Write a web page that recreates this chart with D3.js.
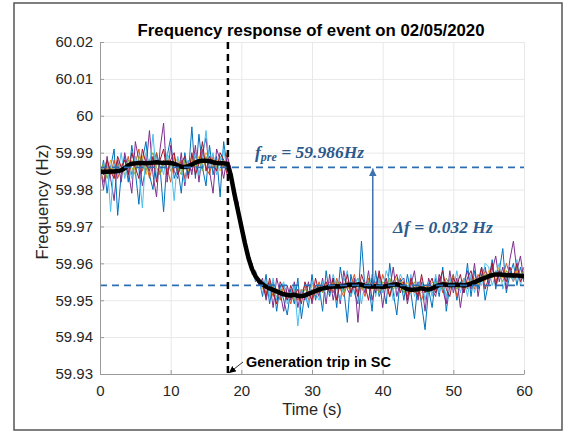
<!DOCTYPE html>
<html><head><meta charset="utf-8">
<script src="https://cdn.jsdelivr.net/npm/d3@7"></script>
<style>body{margin:0;background:#fff}svg{display:block}</style>
</head><body>
<svg id="chart" width="567" height="431"></svg>
<script>
// ---- data ----
const sampleStep = 0.5; // seconds between samples
const meanTrace = [59.9848,59.9848,59.9848,59.9849,59.9849,59.9850,59.9852,59.9858,59.9866,59.9870,
59.9871,59.9872,59.9872,59.9871,59.9872,59.9873,59.9874,59.9873,59.9872,59.9873,
59.9872,59.9870,59.9866,59.9862,59.9861,59.9863,59.9868,59.9873,59.9877,59.9878,
59.9878,59.9877,59.9874,59.9872,59.9871,59.9871,59.9870,59.9840,59.9790,59.9745,
59.9700,59.9655,59.9615,59.9585,59.9565,59.9552,59.9543,59.9537,59.9532,59.9528,
59.9524,59.9520,59.9516,59.9514,59.9513,59.9515,59.9512,59.9511,59.9513,59.9517,
59.9521,59.9525,59.9529,59.9532,59.9534,59.9536,59.9537,59.9538,59.9537,59.9539,
59.9541,59.9542,59.9540,59.9543,59.9542,59.9539,59.9537,59.9537,59.9538,59.9537,
59.9536,59.9538,59.9540,59.9542,59.9543,59.9540,59.9535,59.9530,59.9528,59.9529,
59.9530,59.9532,59.9530,59.9529,59.9532,59.9537,59.9541,59.9543,59.9542,59.9541,
59.9541,59.9542,59.9541,59.9540,59.9542,59.9545,59.9549,59.9553,59.9557,59.9561,
59.9565,59.9568,59.9570,59.9570,59.9569,59.9568,59.9568,59.9567,59.9567,59.9566,59.9566];

const pmu1 = [59.983,59.988,59.979,59.986,59.991,59.973,59.984,59.989,
59.982,59.992,59.985,59.976,59.988,59.993,59.984,59.980,59.990,59.986,59.974,59.989,59.994,59.983,
59.986,59.979,59.990,59.984,
59.997,59.983,59.995,59.986,59.981,59.992,59.984,59.989,59.978,59.993,59.986,
59.985,59.978,59.976,59.969,59.967,59.961,59.960,59.955,59.956,
59.951,59.957,59.949,59.955,59.947,59.954,59.950,59.946,59.953,59.949,59.956,59.945,59.952,59.948,59.957,59.950,59.954,59.947,59.958,
59.951,59.956,59.948,59.959,59.953,59.944,59.957,59.952,59.949,59.966,59.953,59.955,59.947,59.958,59.951,59.954,59.949,59.960,59.952,59.946,59.956,
59.950,59.957,59.952,59.945,59.955,59.949,59.942,59.953,59.948,
59.956,59.951,59.959,59.947,59.954,59.957,59.950,59.955,59.952,59.960,
59.951,59.958,59.953,59.959,59.950,
59.955,59.961,59.953,59.958,59.964,59.952,59.957,59.960,59.954,59.959,59.955];
const pmu2 = [59.986,59.982,59.987,59.984,59.988,59.983,59.986,59.985,
59.989,59.984,59.987,59.991,59.985,59.988,59.983,59.987,59.990,59.984,59.988,59.986,59.982,59.989,
59.985,59.988,59.983,59.987,
59.985,59.989,59.987,59.991,59.986,59.984,59.989,59.985,59.988,59.986,59.990,
59.983,59.980,59.974,59.971,59.965,59.963,59.958,59.958,59.954,
59.955,59.952,59.954,59.951,59.953,59.950,59.954,59.952,59.949,59.953,59.950,59.952,59.954,59.950,59.953,59.951,59.955,59.952,59.954,
59.955,59.952,59.956,59.953,59.951,59.955,59.954,59.957,59.952,59.954,59.951,59.956,59.953,59.955,59.952,59.957,59.954,59.951,59.955,59.953,59.956,
59.954,59.951,59.955,59.952,59.954,59.950,59.953,59.955,59.952,
59.953,59.956,59.952,59.955,59.953,59.957,59.951,59.954,59.956,59.953,
59.956,59.953,59.957,59.955,59.958,
59.956,59.959,59.955,59.958,59.956,59.960,59.957,59.955,59.958,59.956,59.959];
const pmu3 = [59.984,59.987,59.985,59.988,59.983,59.986,59.987,59.984,
59.986,59.988,59.985,59.987,59.989,59.984,59.987,59.986,59.988,59.985,59.987,59.989,59.986,59.988,
59.988,59.985,59.987,59.985,
59.988,59.986,59.989,59.987,59.990,59.988,59.986,59.988,59.985,59.987,59.988,
59.984,59.980,59.975,59.971,59.966,59.961,59.959,59.956,59.955,
59.953,59.955,59.952,59.954,59.953,59.951,59.953,59.952,59.950,59.952,59.951,59.953,59.951,59.952,59.954,59.953,59.952,59.954,59.953,
59.953,59.955,59.954,59.953,59.956,59.954,59.952,59.955,59.954,59.953,59.955,59.954,59.956,59.953,59.955,59.954,59.953,59.955,59.954,59.956,59.953,
59.953,59.955,59.952,59.954,59.953,59.952,59.954,59.953,59.955,
59.954,59.953,59.955,59.954,59.956,59.953,59.955,59.954,59.953,59.955,
59.955,59.956,59.954,59.957,59.955,
59.958,59.956,59.957,59.959,59.956,59.958,59.957,59.956,59.958,59.957,59.956];
const pmu4 = [59.987,59.980,59.989,59.983,59.977,59.988,59.982,59.990,
59.985,59.979,59.993,59.988,59.981,59.986,59.996,59.984,59.978,59.991,59.998,59.982,59.992,59.985,
59.983,59.990,59.981,59.988,
59.984,59.992,59.982,59.990,59.994,59.985,59.979,59.991,59.988,59.983,59.989,
59.986,59.977,59.977,59.970,59.967,59.962,59.958,59.957,59.954,
59.956,59.950,59.955,59.948,59.956,59.952,59.947,59.954,59.950,59.955,59.948,59.953,59.950,59.955,59.949,59.954,59.951,59.956,59.949,
59.957,59.950,59.955,59.949,59.958,59.953,59.951,59.956,59.944,59.955,59.952,59.958,59.950,59.954,59.957,59.948,59.955,59.953,59.959,59.951,59.955,
59.956,59.949,59.954,59.958,59.950,59.955,59.947,59.956,59.953,
59.951,59.957,59.953,59.949,59.958,59.952,59.956,59.948,59.955,59.958,
59.953,59.960,59.951,59.957,59.959,
59.954,59.958,59.962,59.955,59.959,59.953,59.961,59.966,59.958,59.962,59.955];
const pmu5 = [59.985,59.987,59.983,59.986,59.984,59.987,59.985,59.986,
59.988,59.986,59.984,59.989,59.987,59.985,59.988,59.990,59.986,59.984,59.987,59.988,59.985,59.987,
59.986,59.984,59.988,59.986,
59.989,59.986,59.988,59.985,59.989,59.987,59.988,59.986,59.989,59.987,59.985,
59.984,59.979,59.976,59.970,59.966,59.962,59.959,59.957,59.956,
59.954,59.953,59.955,59.952,59.951,59.953,59.952,59.951,59.952,59.950,59.952,59.951,59.953,59.952,59.951,59.953,59.954,59.952,59.953,
59.954,59.953,59.955,59.954,59.952,59.955,59.953,59.954,59.956,59.953,59.954,59.955,59.953,59.954,59.952,59.955,59.954,59.956,59.953,59.954,59.955,
59.952,59.954,59.953,59.955,59.952,59.954,59.953,59.952,59.954,
59.955,59.954,59.953,59.956,59.954,59.955,59.953,59.954,59.955,59.954,
59.954,59.955,59.956,59.955,59.957,
59.957,59.956,59.958,59.957,59.955,59.958,59.956,59.957,59.959,59.957,59.958];
const pmu6 = [59.982,59.986,59.988,59.974,59.987,59.984,59.990,59.983,
59.987,59.983,59.989,59.985,59.975,59.990,59.986,59.995,59.983,59.988,59.984,59.990,59.987,59.977,
59.989,59.985,59.982,59.988,
59.986,59.990,59.984,59.988,59.996,59.986,59.990,59.984,59.988,59.991,59.985,
59.982,59.981,59.973,59.972,59.964,59.963,59.957,59.958,59.955,
59.952,59.955,59.951,59.956,59.950,59.953,59.955,59.949,59.952,59.954,59.943,59.953,59.951,59.949,59.955,59.952,59.950,59.955,59.951,
59.952,59.957,59.953,59.950,59.955,59.958,59.951,59.954,59.956,59.949,59.955,59.953,59.957,59.951,59.956,59.952,59.958,59.955,59.950,59.954,59.957,
59.955,59.952,59.957,59.951,59.954,59.956,59.950,59.955,59.951,
59.957,59.952,59.955,59.951,59.956,59.953,59.958,59.952,59.956,59.951,
59.957,59.952,59.956,59.954,59.960,
59.959,59.954,59.957,59.960,59.953,59.956,59.959,59.955,59.961,59.954,59.958];
const pmu7 = [59.986,59.984,59.988,59.985,59.983,59.989,59.986,59.988,
59.984,59.990,59.986,59.983,59.991,59.987,59.985,59.989,59.982,59.988,59.991,59.984,59.988,59.990,
59.984,59.987,59.989,59.983,
59.990,59.984,59.987,59.993,59.985,59.989,59.987,59.985,59.990,59.988,59.984,
59.985,59.978,59.975,59.969,59.966,59.961,59.960,59.956,59.955,
59.954,59.951,59.956,59.952,59.949,59.955,59.953,59.950,59.954,59.951,59.953,59.949,59.955,59.952,59.950,59.956,59.952,59.953,59.955,
59.952,59.956,59.950,59.955,59.953,59.957,59.952,59.955,59.951,59.957,59.954,59.950,59.956,59.952,59.958,59.953,59.956,59.951,59.955,59.957,59.952,
59.955,59.950,59.956,59.953,59.951,59.957,59.952,59.954,59.956,
59.952,59.955,59.958,59.953,59.951,59.956,59.954,59.957,59.952,59.956,
59.958,59.954,59.955,59.959,59.953,
59.956,59.960,59.954,59.958,59.957,59.955,59.959,59.956,59.960,59.955,59.957];

const pmuSeries = [pmu1, pmu2, pmu3, pmu4, pmu5, pmu6, pmu7];
const pmuColors = ["#0072BD","#D95319","#EDB120","#7E2F8E","#77AC30","#4DBEEE","#A2142F"];

const xTicks = [0, 10, 20, 30, 40, 50, 60];
const xTickLabels = ["0","10","20","30","40","50","60"];
const yTicks = [59.93, 59.94, 59.95, 59.96, 59.97, 59.98, 59.99, 60, 60.01, 60.02];
const yTickLabels = ["59.93","59.94","59.95","59.96","59.97","59.98","59.99","60","60.01","60.02"];

const eventTime = 18.1;     // generation trip
const fPre = 59.986;        // pre-event frequency
const fSettle = 59.954;     // settling frequency
const deltaF = "0.032";
const arrowTime = 38.6;

// ---- drawing ----
(function () {
const svg = d3.select("#chart");
const pL = 100, pR = 524, pT = 42, pB = 374;
const x = d3.scaleLinear().domain([0, 60]).range([pL, pR]);
const y = d3.scaleLinear().domain([59.93, 60.02]).range([pB, pT]);

// outer frame
svg.append("rect").attr("x", 14).attr("y", 3).attr("width", 548).attr("height", 427)
  .attr("fill", "none").attr("stroke", "#555").attr("stroke-width", 1.5);

const defs = svg.append("defs");
defs.append("clipPath").attr("id", "clip").append("rect")
  .attr("x", pL).attr("y", pT).attr("width", pR - pL).attr("height", pB - pT);
defs.append("marker").attr("id", "headBlue").attr("viewBox", "0 0 10 10")
  .attr("refX", 10).attr("refY", 5).attr("markerWidth", 8).attr("markerHeight", 8)
  .attr("markerUnits", "userSpaceOnUse").attr("orient", "auto")
  .append("path").attr("d", "M0,0 L10,5 L0,10 Z").attr("fill", "#3f70b0");
defs.append("marker").attr("id", "headBlack").attr("viewBox", "0 0 10 10")
  .attr("refX", 10).attr("refY", 5).attr("markerWidth", 7).attr("markerHeight", 7)
  .attr("markerUnits", "userSpaceOnUse").attr("orient", "auto")
  .append("path").attr("d", "M0,0 L10,5 L0,10 Z").attr("fill", "#000");

// grid
svg.append("g").attr("transform", `translate(0,${pB})`)
  .call(d3.axisBottom(x).tickValues(xTicks).tickSize(-(pB - pT)).tickFormat(""))
  .call(g => g.select(".domain").remove())
  .call(g => g.selectAll("line").attr("stroke", "#e8e8e8"));
svg.append("g").attr("transform", `translate(${pL},0)`)
  .call(d3.axisLeft(y).tickValues(yTicks).tickSize(-(pR - pL)).tickFormat(""))
  .call(g => g.select(".domain").remove())
  .call(g => g.selectAll("line").attr("stroke", "#e8e8e8"));

// traces
const plot = svg.append("g").attr("clip-path", "url(#clip)");
const line = d3.line().x((d, i) => x(i * sampleStep)).y(d => y(d));
pmuSeries.forEach((s, k) => {
  plot.append("path").datum(s).attr("d", line).attr("fill", "none")
    .attr("stroke", pmuColors[k]).attr("stroke-width", 1).attr("stroke-linejoin", "round");
});
plot.append("path").datum(meanTrace).attr("d", line).attr("fill", "none")
  .attr("stroke", "#000").attr("stroke-width", 4.5).attr("stroke-linejoin", "round").attr("stroke-linecap", "round");

// reference dashed lines
[fPre, fSettle].forEach(v => {
  plot.append("line").attr("x1", x(0)).attr("x2", x(60)).attr("y1", y(v)).attr("y2", y(v))
    .attr("stroke", "#2e6fb4").attr("stroke-width", 1.8).attr("stroke-dasharray", "7,5");
});
svg.append("line").attr("x1", x(eventTime)).attr("x2", x(eventTime)).attr("y1", pT).attr("y2", pB)
  .attr("stroke", "#000").attr("stroke-width", 2.5).attr("stroke-dasharray", "7,5");

// delta-f arrow
svg.append("line").attr("x1", x(arrowTime)).attr("x2", x(arrowTime))
  .attr("y1", y(fSettle)).attr("y2", y(fPre) + 1)
  .attr("stroke", "#3f70b0").attr("stroke-width", 1.5).attr("marker-end", "url(#headBlue)");

// axes
const ax = svg.append("g").attr("transform", `translate(0,${pB})`)
  .call(d3.axisBottom(x).tickValues(xTicks).tickSize(-4).tickSizeOuter(0).tickPadding(11)
    .tickFormat((d, i) => xTickLabels[i]));
const ay = svg.append("g").attr("transform", `translate(${pL},0)`)
  .call(d3.axisLeft(y).tickValues(yTicks).tickSize(-4).tickSizeOuter(0).tickPadding(7)
    .tickFormat((d, i) => yTickLabels[i]));
[ax, ay].forEach(g => {
  g.select(".domain").attr("stroke", "#9a9a9a");
  g.selectAll(".tick line").attr("stroke", "#9a9a9a");
  g.selectAll("text").attr("font-family", "Liberation Sans, Arial, sans-serif")
    .attr("font-size", 15).attr("fill", "#262626");
});

// labels
svg.append("text").attr("x", 311).attr("y", 36).attr("text-anchor", "middle")
  .attr("font-family", "Liberation Sans, Arial, sans-serif").attr("font-weight", "bold")
  .attr("font-size", 16.8).attr("fill", "#000").text("Frequency response of event on 02/05/2020");
svg.append("text").attr("x", 312).attr("y", 415).attr("text-anchor", "middle")
  .attr("font-family", "Liberation Sans, Arial, sans-serif").attr("font-size", 16.4)
  .attr("fill", "#262626").text("Time (s)");
svg.append("text").attr("transform", "translate(48,202) rotate(-90)").attr("text-anchor", "middle")
  .attr("font-family", "Liberation Sans, Arial, sans-serif").attr("font-size", 16.7)
  .attr("fill", "#262626").text("Frequency (Hz)");

// annotation: generation trip
svg.append("line").attr("x1", 243).attr("y1", 362).attr("x2", x(eventTime) + 1).attr("y2", pB - 1)
  .attr("stroke", "#000").attr("stroke-width", 0.8).attr("marker-end", "url(#headBlack)");
svg.append("text").attr("x", 246).attr("y", 367)
  .attr("font-family", "Liberation Sans, Arial, sans-serif").attr("font-weight", "bold")
  .attr("font-size", 14.5).attr("fill", "#000").text("Generation trip in SC");

// math annotations
const fp = svg.append("text").attr("x", 255).attr("y", 158)
  .attr("font-family", "Liberation Serif, DejaVu Serif, serif").attr("font-weight", "bold")
  .attr("font-style", "italic").attr("font-size", 17.5).attr("fill", "#2b5a8c");
fp.append("tspan").text("f");
fp.append("tspan").attr("font-size", 12).attr("dy", 3).text("pre");
fp.append("tspan").attr("dy", -3).text(" = " + fPre.toFixed(3) + "Hz");

svg.append("text").attr("x", 393).attr("y", 233)
  .attr("font-family", "Liberation Serif, DejaVu Serif, serif").attr("font-weight", "bold")
  .attr("font-style", "italic").attr("font-size", 17.5).attr("fill", "#2b5a8c")
  .text("\u0394f = " + deltaF + " Hz");
})();
</script>
</body></html>
